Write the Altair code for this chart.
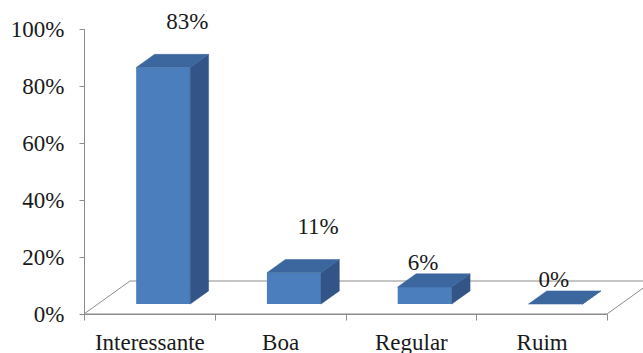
import json
import altair as alt
import pandas as pd

# ---------------- data ----------------
categories = ["Interessante", "Boa", "Regular", "Ruim"]
values = [0.83, 0.11, 0.06, 0.00]
value_labels = ["83%", "11%", "6%", "0%"]
y_ticks = [0.0, 0.2, 0.4, 0.6, 0.8, 1.0]

# ---------------- layout / style ----------------
W, H = 523, 285
N = len(categories)
PX_CAT = W / N
DEPTH_X = 46 / PX_CAT      # floor depth, horizontal (in category units)
DEPTH_Y = 33 / H           # floor depth, vertical (in value units)
BAR_W = 54 / PX_CAT
FRONT, BACK = 0.3, 0.7     # bar occupies this slice of the floor depth

FRONT_C = "#4A7EBD"
SIDE_C = "#325486"
TOP_C = "#3C679E"
GRAY = "#8C8C8C"
TEXT_C = "#1A1A1A"
FONT = "Liberation Serif, 'Times New Roman', 'DejaVu Serif', serif"

# ---------------- geometry tables built from data ----------------
front_rows, face_rows = [], []
dxb = (BACK - FRONT) * DEPTH_X
yf, yb = FRONT * DEPTH_Y, BACK * DEPTH_Y
for i, (c, v) in enumerate(zip(categories, values)):
    cx = i + 0.5 + FRONT * DEPTH_X
    x0, x1 = cx - BAR_W / 2, cx + BAR_W / 2
    front_rows.append({"cat": c, "x": x0, "x2": x1, "y": v + yf, "y2": yf})
    for (x, ya, yb2) in [(x1, v + yf, yf), (x1 + dxb, v + yb, yb)]:
        face_rows.append({"face": c + "-side", "kind": "side", "x": x, "y": ya, "y2": yb2})
    for (x, ya, yb2) in [(x0, v + yf, v + yf), (x0 + dxb, v + yb, v + yf),
                         (x1, v + yb, v + yf), (x1 + dxb, v + yb, v + yb)]:
        face_rows.append({"face": c + "-top", "kind": "top", "x": x, "y": ya, "y2": yb2})

floor_rows = [
    {"x": 0.0, "y": 0.0, "y2": 0.0},
    {"x": DEPTH_X, "y": DEPTH_Y, "y2": 0.0},
    {"x": float(N), "y": DEPTH_Y, "y2": 0.0},
    {"x": N + DEPTH_X, "y": DEPTH_Y, "y2": DEPTH_Y},
]

label_rows = []
for i, (v, t) in enumerate(zip(values, value_labels)):
    big = v >= 0.1
    label_rows.append({"x": i + 0.5 + (0.29 if big else 0.094),
                       "y": v + (0.195 if big else 0.12), "t": t})

front_df = pd.DataFrame(front_rows)
face_df = pd.DataFrame(face_rows)
floor_df = pd.DataFrame(floor_rows)
label_df = pd.DataFrame(label_rows)

# ---------------- scales / axes ----------------
xs = alt.Scale(domain=[0, N], nice=False, zero=False)
ys = alt.Scale(domain=[0, 1], nice=False)

x_axis = alt.Axis(
    values=[k / 2 for k in range(2 * N + 1)],
    labelExpr="datum.value % 1 == 0.5 ? " + json.dumps(categories) + "[floor(datum.value)] : ''",
    tickOpacity={"condition": {"test": "datum.value % 1 != 0", "value": 0}, "value": 1},
    title=None, grid=False, labelOverlap=False, labelFlush=False,
    labelFont=FONT, labelFontSize=23, labelColor=TEXT_C, labelPadding=11,
    tickSize=6, tickColor=GRAY, domainColor=GRAY,
)
y_axis = alt.Axis(
    values=y_ticks, format=".0%", title=None, grid=False,
    labelFont=FONT, labelFontSize=23, labelColor=TEXT_C, labelPadding=15,
    tickSize=5, tickColor=GRAY, domainColor=GRAY,
)

floor = alt.Chart(floor_df).mark_area(
    fill="white", stroke=GRAY, strokeWidth=1, interpolate="linear"
).encode(
    x=alt.X("x:Q", scale=xs, axis=x_axis),
    y=alt.Y("y:Q", scale=ys, axis=y_axis, stack=None),
    y2="y2:Q",
)

front = alt.Chart(front_df).mark_rect(color=FRONT_C).encode(
    x=alt.X("x:Q", scale=xs, axis=x_axis),
    x2="x2:Q",
    y=alt.Y("y:Q", scale=ys, axis=y_axis),
    y2="y2:Q",
)

kind_scale = alt.Scale(domain=["side", "top"], range=[SIDE_C, TOP_C])
faces = alt.Chart(face_df).mark_area(interpolate="linear", strokeWidth=0.5).encode(
    x=alt.X("x:Q", scale=xs, axis=x_axis),
    y=alt.Y("y:Q", scale=ys, axis=y_axis, stack=None),
    y2="y2:Q",
    detail="face:N",
    color=alt.Color("kind:N", scale=kind_scale, legend=None),
    stroke=alt.Stroke("kind:N", scale=kind_scale, legend=None),
)

labels = alt.Chart(label_df).mark_text(
    font=FONT, fontSize=23, color=TEXT_C, align="center", baseline="middle"
).encode(
    x=alt.X("x:Q", scale=xs, axis=x_axis),
    y=alt.Y("y:Q", scale=ys, axis=y_axis),
    text="t:N",
)

chart = alt.layer(floor, front, faces, labels).properties(
    width=W, height=H,
    autosize=alt.AutoSizeParams(type="none"),
    padding={"left": 84, "top": 29, "right": 36, "bottom": 39},
    background="white",
).configure_view(stroke=None)

chart.save("out.html", embed_options={"renderer": "svg", "actions": False})
